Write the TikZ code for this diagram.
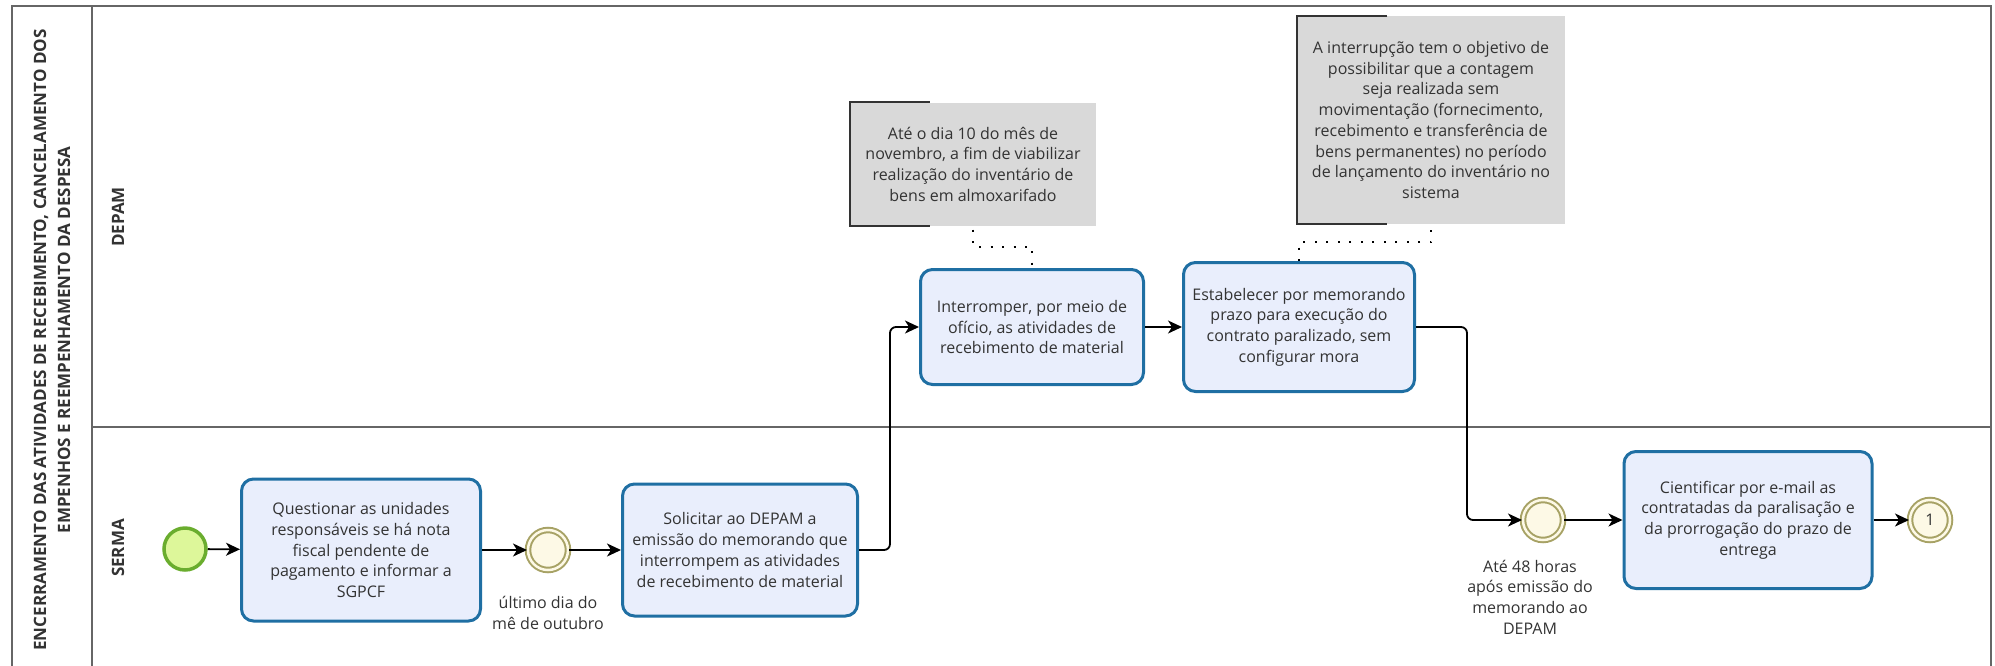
\documentclass[tikz,border=0pt]{standalone}
\usepackage{fontspec}
\setmainfont{Open Sans}
\usetikzlibrary{arrows.meta,calc}
\definecolor{taskfill}{HTML}{E9EEFC}
\definecolor{taskdraw}{HTML}{1F6FA3}
\definecolor{evdraw}{HTML}{A7A265}
\definecolor{evfill}{HTML}{FDF9E6}
\definecolor{stfill}{HTML}{DDF79A}
\definecolor{stdraw}{HTML}{6AAD2E}
\definecolor{notefill}{HTML}{D9D9D9}
\definecolor{txt}{HTML}{333333}
\definecolor{framecol}{HTML}{666666}
\begin{document}
\begin{tikzpicture}[x=1pt,y=-1pt,
  every node/.style={font=\fontsize{16}{20.7}\selectfont, text=txt, inner sep=0pt},
  task/.style={draw=taskdraw, fill=taskfill, line width=3pt, rounded corners=12pt, align=center},
  startev/.style={circle, draw=stdraw, fill=stfill, line width=3.5pt, minimum size=42pt},
  interev/.style={circle, draw=evdraw, double=evfill, fill=evfill, double distance=2.5pt, line width=2pt, minimum size=40pt},
  evlabel/.style={align=center},
  note/.style={fill=notefill, align=center},
  bracket/.style={draw=txt, line width=2pt},
  flow/.style={draw=black, line width=1.8pt, rounded corners=6pt, -{Stealth[length=14pt,width=13pt,inset=4pt]}},
  assoc/.style={draw=black, line width=2pt, dash pattern=on 2pt off 9.5pt},
  lanelabel/.style={font=\fontsize{17}{24}\selectfont\bfseries, rotate=90, align=center},
  poolline/.style={draw=framecol, line width=2pt}
]
\useasboundingbox (0,0) rectangle (1995,665);
\clip (0,0) rectangle (1995,665);
% pool frame
\draw[poolline] (12,670) -- (12,6) -- (1991,6) -- (1991,670);
\draw[poolline] (92,6) -- (92,670);
\draw[poolline] (92,427) -- (1991,427);
% title and lane names
\node[lanelabel] (title) at (52,340) {ENCERRAMENTO DAS ATIVIDADES DE RECEBIMENTO, CANCELAMENTO DOS\\EMPENHOS E REEMPENHAMENTO DA DESPESA};
\node[lanelabel] (depam) at (118,217) {DEPAM};
\node[lanelabel] (serma) at (118,548) {SERMA};
% notes
\node[note, minimum width=246pt, minimum height=123pt] (n1) at (973,164) {Até o dia 10 do mês de\\novembro, a fim de viabilizar\\realização do inventário de\\bens em almoxarifado};
\draw[bracket] ($(n1.north west)+(80,0)$) -- (n1.north west) -- (n1.south west) -- ++(80,0);
\node[note, minimum width=267pt, minimum height=208pt] (n2) at (1431,120) {A interrupção tem o objetivo de\\possibilitar que a contagem\\seja realizada sem\\movimentação (fornecimento,\\recebimento e transferência de\\bens permanentes) no período\\de lançamento do inventário no\\sistema};
\draw[bracket] ($(n2.north west)+(90,0)$) -- (n2.north west) -- (n2.south west) -- ++(90,0);
% tasks
\node[task, minimum width=239pt, minimum height=142pt] (t1) at (361,550) {Questionar as unidades\\responsáveis se há nota\\fiscal pendente de\\pagamento e informar a\\SGPCF};
\node[task, minimum width=235pt, minimum height=132pt] (t2) at (740,550) {Solicitar ao DEPAM a\\emissão do memorando que\\interrompem as atividades\\de recebimento de material};
\node[task, minimum width=223pt, minimum height=115pt] (t3) at (1032,327) {Interromper, por meio de\\ofício, as atividades de\\recebimento de material};
\node[task, minimum width=231pt, minimum height=129pt] (t4) at (1299,327) {Estabelecer por memorando\\prazo para execução do\\contrato paralizado, sem\\configurar mora};
\node[task, minimum width=248pt, minimum height=137pt] (t5) at (1748,520) {Cientificar por e-mail as\\contratadas da paralisação e\\da prorrogação do prazo de\\entrega};
% events
\node[startev] (start) at (185,549) {};
\node[interev] (e1) at (548,550) {};
\node[evlabel] (e1l) at (548,613) {último dia do\\mê de outubro};
\node[interev] (e2) at (1543,520) {};
\node[evlabel] (e2l) at (1530,597) {Até 48 horas\\após emissão do\\memorando ao\\DEPAM};
\node[interev] (end) at (1930,520) {1};
% flows
\draw[flow] (start) -- (t1);
\draw[flow] (t1) -- (e1);
\draw[flow] (e1) -- (t2);
\draw[flow] (t2.east) -- ++(31,0) |- (t3.west);
\draw[flow] (t3) -- (t4);
\draw[flow] (t4.east) -- ++(51,0) |- (e2.west);
\draw[flow] (e2) -- (t5);
\draw[flow] (t5) -- (end);
% associations
\draw[assoc] ($(n1.south)+(0,4)$) -- ++(0,17) -| (t3.north);
\draw[assoc] ($(n2.south)+(0,6)$) -- ++(0,12) -| (t4.north);
\end{tikzpicture}
\end{document}
